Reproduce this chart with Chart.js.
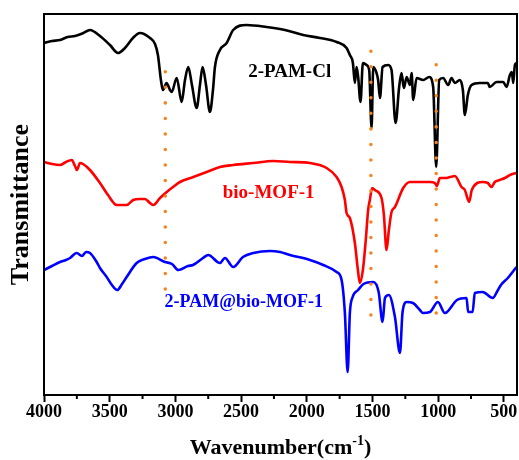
<!DOCTYPE html>
<html>
<head>
<meta charset="utf-8">
<script src="https://cdn.jsdelivr.net/npm/chart.js@4.4.1/dist/chart.umd.min.js"></script>
<style>
  html, body { margin: 0; padding: 0; background: #fff; }
  #wrap { width: 519px; height: 460px; position: relative; }
</style>
</head>
<body>
<div id="wrap"><canvas id="ftir"></canvas></div>
<script>
// FTIR spectra, x = wavenumber (cm-1), y = offset transmittance (a.u.)
const pamClWn = [4000, 3940, 3878, 3820, 3764, 3700, 3650, 3574, 3498, 3437, 3384, 3323, 3270, 3193, 3155, 3133, 3110, 3095, 3067, 3041, 3028, 2990, 2952, 2927, 2902, 2874, 2838, 2813, 2793, 2767, 2737, 2714, 2699, 2661, 2610, 2560, 2458, 2306, 2166, 2027, 1900, 1773, 1697, 1672, 1649, 1634, 1621, 1609, 1591, 1573, 1545, 1525, 1507, 1494, 1469, 1457, 1443, 1423, 1380, 1355, 1324, 1297, 1279, 1261, 1240, 1215, 1202, 1190, 1164, 1114, 1068, 1038, 1015, 992, 962, 924, 898, 873, 835, 812, 797, 774, 746, 683, 622, 607, 556, 505, 479, 454, 439, 429, 416, 404];
const pamClT = [352, 354, 355, 358, 359, 362, 365, 359, 350, 342, 347, 357, 362, 357, 351, 340, 315, 305, 312, 305, 303, 317, 293, 315, 328, 310, 287, 310, 328, 310, 283, 305, 328, 345, 352, 365, 370, 368, 365, 360, 357, 353, 347, 340, 332, 312, 328, 318, 293, 332, 330, 325, 267, 328, 322, 315, 297, 328, 330, 325, 272, 308, 322, 307, 318, 310, 322, 295, 317, 315, 318, 308, 228, 315, 317, 310, 317, 312, 315, 305, 280, 300, 310, 312, 312, 308, 313, 313, 308, 320, 323, 312, 330, 332];

const bioMofWn = [4000, 3939, 3878, 3833, 3789, 3764, 3749, 3726, 3703, 3650, 3574, 3513, 3447, 3371, 3321, 3270, 3232, 3193, 3168, 3117, 3066, 3018, 2965, 2864, 2762, 2661, 2560, 2407, 2255, 2128, 1976, 1849, 1773, 1735, 1710, 1697, 1672, 1634, 1611, 1596, 1573, 1551, 1533, 1520, 1502, 1482, 1431, 1413, 1393, 1375, 1355, 1329, 1266, 1215, 1139, 1063, 1025, 1010, 987, 942, 911, 873, 822, 797, 764, 744, 662, 622, 594, 569, 531, 492, 454, 404];
const bioMofT = [233, 231, 230, 233, 235, 229, 225, 232, 231, 225, 212, 200, 190, 190, 195, 196, 196, 192, 190, 197, 203, 208, 213, 218, 223, 228, 230, 232, 234, 233, 232, 227, 218, 208, 195, 182, 177, 152, 125, 112, 125, 155, 185, 195, 207, 205, 197, 180, 145, 165, 183, 188, 207, 213, 213, 213, 212, 209, 217, 217, 218, 219, 208, 205, 193, 205, 213, 212, 208, 213, 215, 217, 220, 222];

const pamMofWn = [4000, 3939, 3878, 3833, 3802, 3751, 3711, 3680, 3650, 3599, 3574, 3523, 3483, 3442, 3406, 3371, 3295, 3232, 3168, 3079, 3026, 2978, 2904, 2866, 2790, 2750, 2661, 2623, 2560, 2486, 2407, 2280, 2204, 2128, 1976, 1875, 1773, 1735, 1710, 1689, 1672, 1651, 1609, 1568, 1494, 1453, 1423, 1405, 1375, 1329, 1291, 1271, 1240, 1192, 1139, 1116, 1063, 1002, 949, 857, 784, 772, 738, 721, 662, 584, 553, 522, 470, 404];
const pamMofT = [125, 129, 133, 135, 137, 142, 139, 143, 142, 133, 127, 118, 110, 105, 111, 118, 132, 136, 138, 133, 131, 125, 129, 130, 137, 140, 132, 137, 128, 138, 142, 144, 143, 140, 135, 130, 123, 115, 82, 23, 82, 98, 105, 111, 113, 103, 73, 97, 100, 78, 42, 83, 93, 92, 85, 82, 83, 93, 82, 95, 97, 83, 83, 102, 103, 97, 103, 110, 117, 128];

// orange dotted guide lines: wavenumber, lower and upper level
const guideWn = [3077, 1512, 1015];
const guideLow = [106, 80, 82];
const guideHigh = [326, 347, 333];

const majorTicks = [4000, 3500, 3000, 2500, 2000, 1500, 1000, 500];
const minorTicks = [3750, 3250, 2750, 2250, 1750, 1250, 750];

const serif = "'Liberation Serif', 'Times New Roman', serif";
Chart.defaults.font.family = serif;
Chart.defaults.color = "#000";

const toPoints = (xs, ys) => xs.map((x, i) => ({ x: x, y: ys[i] }));

const spectrum = (label, xs, ys, color) => ({
    label,
    data: toPoints(xs, ys),
    borderColor: color,
    borderWidth: 2.6,
    borderJoinStyle: "round",
    pointRadius: 0,
    fill: false,
    cubicInterpolationMode: "monotone",
});

const guides = guideWn.map((wn, i) => ({
    label: "guide" + i,
    data: [{ x: wn, y: guideLow[i] }, { x: wn, y: guideHigh[i] }],
    borderColor: "#f5841f",
    borderWidth: 3.5,
    borderDash: [0.01, 15.5],
    borderCapStyle: "round",
    pointRadius: 0,
}));

// box frame, minor ticks, curve names and the x title with superscript
const decorations = {
    id: "decorations",
    afterDraw(chart) {
        const { ctx, chartArea: a, scales } = chart;
        const x = scales.x, y = scales.y;
        ctx.save();
        ctx.strokeStyle = "#000";
        ctx.lineWidth = 2;
        ctx.strokeRect(a.left, a.top, a.right - a.left, a.bottom - a.top);

        ctx.beginPath();
        minorTicks.forEach((v) => {
            const px = x.getPixelForValue(v);
            ctx.moveTo(px, a.bottom);
            ctx.lineTo(px, a.bottom + 4);
        });
        ctx.stroke();

        ctx.textAlign = "center";
        ctx.textBaseline = "middle";
        const names = [
            ["2-PAM-Cl", 2130, 323, "#000", 19],
            ["bio-MOF-1", 2290, 202, "#ff0000", 19],
            ["2-PAM@bio-MOF-1", 2480, 93, "#0000ff", 18],
        ];
        names.forEach(([t, wn, lv, c, s]) => {
            ctx.fillStyle = c;
            ctx.font = "bold " + s + "px " + serif;
            ctx.fillText(t, x.getPixelForValue(wn), y.getPixelForValue(lv));
        });

        // x axis title
        ctx.fillStyle = "#000";
        ctx.textAlign = "left";
        ctx.textBaseline = "alphabetic";
        const big = "bold 22px " + serif, small = "bold 14px " + serif;
        ctx.font = big;
        const w1 = ctx.measureText("Wavenumber(cm").width;
        const w3 = ctx.measureText(")").width;
        ctx.font = small;
        const w2 = ctx.measureText("-1").width;
        let cx = (a.left + a.right) / 2 - (w1 + w2 + w3) / 2;
        const base = 454;
        ctx.font = big;
        ctx.fillText("Wavenumber(cm", cx, base);
        ctx.font = small;
        ctx.fillText("-1", cx + w1, base - 9);
        ctx.font = big;
        ctx.fillText(")", cx + w1 + w2, base);
        ctx.restore();
    },
};

new Chart(document.getElementById("ftir").getContext("2d"), {
    type: "line",
    data: {
        datasets: [
            ...guides,
            spectrum("2-PAM-Cl", pamClWn, pamClT, "#000000"),
            spectrum("bio-MOF-1", bioMofWn, bioMofT, "#ff0000"),
            spectrum("2-PAM@bio-MOF-1", pamMofWn, pamMofT, "#0000ff"),
        ],
    },
    options: {
        responsive: true,
        maintainAspectRatio: false,
        animation: false,
        layout: { padding: { top: 14, right: 2, left: 0, bottom: 0 } },
        plugins: { legend: { display: false }, tooltip: { enabled: false } },
        scales: {
            x: {
                type: "linear",
                reverse: true,
                min: 400,
                max: 4000,
                afterBuildTicks: (scale) => {
                    scale.ticks = majorTicks.map((v) => ({ value: v }));
                },
                afterFit: (scale) => { scale.height = 65; },
                border: { display: false },
                grid: {
                    drawOnChartArea: false,
                    drawTicks: true,
                    tickLength: 7,
                    tickWidth: 2,
                    tickColor: "#000",
                },
                ticks: {
                    padding: 0,
                    maxRotation: 0,
                    autoSkip: false,
                    color: "#000",
                    font: { size: 18, weight: "bold" },
                    callback: (v) => v,
                },
            },
            y: {
                min: 0,
                max: 381,
                afterFit: (scale) => { scale.width = 44; },
                border: { display: false },
                grid: { display: false },
                ticks: { display: false },
                title: {
                    display: true,
                    text: "Transmittance",
                    color: "#000",
                    padding: { top: 6, bottom: 0 },
                    font: { size: 26, weight: "bold" },
                },
            },
        },
    },
    plugins: [decorations],
});
</script>
</body>
</html>
